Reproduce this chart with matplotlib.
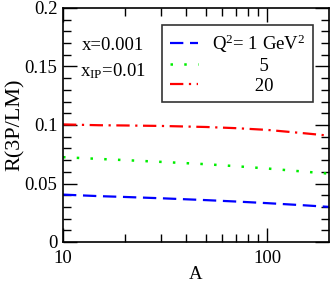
import matplotlib
matplotlib.use("Agg")
import matplotlib.pyplot as plt
from matplotlib.ticker import MultipleLocator, FixedLocator, NullFormatter, FuncFormatter

plt.rcParams['font.family'] = ['Liberation Serif', 'DejaVu Serif']
plt.rcParams['mathtext.fontset'] = 'custom'
plt.rcParams['mathtext.rm'] = 'Liberation Serif'
plt.rcParams['mathtext.it'] = 'Liberation Serif'

# values
A = [10, 15, 20, 30, 50, 70, 100, 150, 200]
r_q1 = [0.0405, 0.0392, 0.0385, 0.0374, 0.0358, 0.0346, 0.0332, 0.0314, 0.0300]
r_q5 = [0.0725, 0.0710, 0.0700, 0.0685, 0.0665, 0.0648, 0.0628, 0.0602, 0.0584]
r_q20 = [0.1005, 0.0998, 0.0996, 0.0992, 0.0983, 0.0973, 0.0958, 0.0930, 0.0909]
labels = ["Q$^2$= 1 GeV$^2$", "          5", "         20"]

FS = 13.5

fig = plt.figure(figsize=(3.32, 2.82), dpi=100)
ax = fig.add_axes([63 / 332, 1 - 242 / 282, 266 / 332, 234 / 282])

ax.plot(A, r_q1, color="#0000ff", lw=1.6, dashes=(6, 3), label=labels[0])
ax.plot(A, r_q5, color="#00ee00", lw=1.8, dashes=(1, 4.5), label=labels[1])
ax.plot(A, r_q20, color="#ff0000", lw=1.6, dashes=(6, 2.5, 1, 2.5), label=labels[2])

ax.set_xscale("log")
ax.set_xlim(10, 200)
ax.set_ylim(0, 0.2)
ax.set_xticks([10, 100])
ax.set_xticklabels(["10", "100"])
ax.xaxis.set_minor_locator(FixedLocator([20, 30, 40, 50, 60, 70, 80, 90]))
ax.xaxis.set_minor_formatter(NullFormatter())
ax.yaxis.set_major_locator(MultipleLocator(0.05))
ax.yaxis.set_minor_locator(MultipleLocator(0.01))
ax.yaxis.set_major_formatter(FuncFormatter(lambda v, p: f"{v:g}"))

ax.tick_params(which="both", direction="in", top=True, right=True, labelsize=FS, width=1.0)
ax.tick_params(which="major", length=10, pad=4)
ax.tick_params(axis="x", which="major", pad=6)
ax.tick_params(which="minor", length=6)
for s in ax.spines.values():
    s.set_linewidth(1.2)

ax.set_xlabel("A", fontsize=FS, labelpad=-1)
ax.set_ylabel("R(3P/LM)", fontsize=16, labelpad=0)

fig.text(113 / 332, 1 - 45 / 282, "x=0.001", fontsize=FS, ha="center", va="center")
fig.text(113 / 332, 1 - 71 / 282, "x$_{\\mathrm{IP}}$=0.01", fontsize=FS, ha="center", va="center")

leg = ax.legend(loc="upper right", bbox_to_anchor=(313 / 332, 1 - 25 / 282),
                bbox_transform=fig.transFigure, fontsize=FS, frameon=True,
                fancybox=False, edgecolor="black", handlelength=1.5,
                borderpad=0.4, labelspacing=0.15, handletextpad=0.75,
                borderaxespad=0)
leg.get_frame().set_linewidth(1.2)

fig.savefig("out.png", dpi=100)
